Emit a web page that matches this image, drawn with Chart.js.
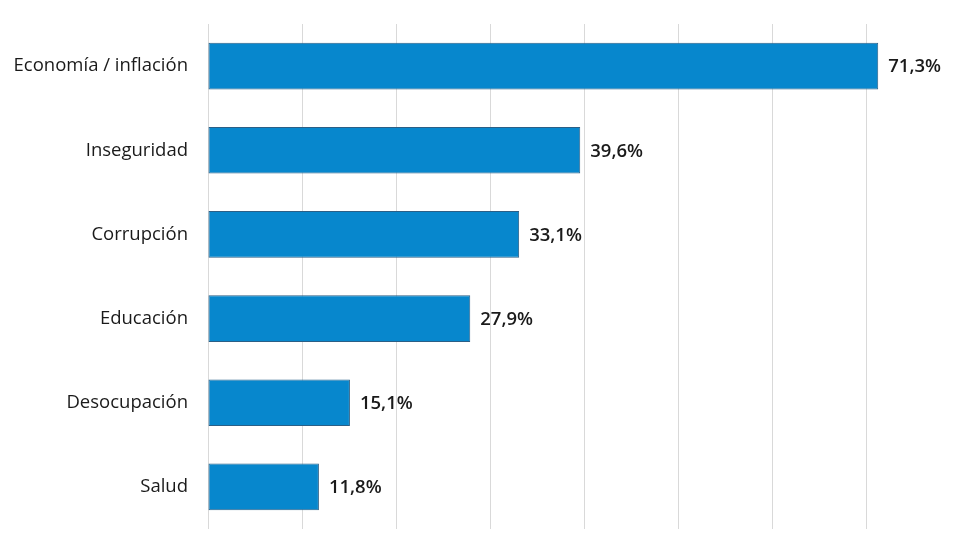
<!DOCTYPE html>
<html>
<head>
<meta charset="utf-8">
<script src="https://cdn.jsdelivr.net/npm/chart.js@4.4.1/dist/chart.umd.min.js"></script>
<style>
html, body { margin: 0; padding: 0; background: #ffffff; }
#wrap { width: 960px; height: 540px; position: relative; }
</style>
</head>
<body>
<div id="wrap"><canvas id="issuesChart"></canvas></div>
<script>
const categories = ['Economía / inflación', 'Inseguridad', 'Corrupción', 'Educación', 'Desocupación', 'Salud'];
const shares = [71.3, 39.6, 33.1, 27.9, 15.1, 11.8];

// value labels at the end of each bar
const valueLabels = {
  id: 'valueLabels',
  afterDatasetsDraw(chart) {
    const ctx = chart.ctx;
    const meta = chart.getDatasetMeta(0);
    ctx.save();
    ctx.font = '600 18.5px "Open Sans", sans-serif';
    ctx.fillStyle = '#1a1a1a';
    ctx.textAlign = 'left';
    ctx.textBaseline = 'middle';
    meta.data.forEach((bar, i) => {
      ctx.fillText(shares[i].toFixed(1).replace('.', ',') + '%', bar.x + 10, bar.y + 1);
    });
    ctx.restore();
  }
};

const ctx = document.getElementById('issuesChart').getContext('2d');
new Chart(ctx, {
  type: 'bar',
  data: {
    labels: categories,
    datasets: [{
      data: shares,
      backgroundColor: '#0787cd',
      borderColor: '#2b5f86',
      borderWidth: 1,
      borderSkipped: false,
      categoryPercentage: 1,
      barPercentage: 0.555
    }]
  },
  options: {
    indexAxis: 'y',
    responsive: true,
    maintainAspectRatio: false,
    animation: false,
    layout: {
      padding: { top: 24, bottom: 11, left: 0, right: 0 }
    },
    plugins: {
      legend: { display: false },
      tooltip: { enabled: false }
    },
    scales: {
      x: {
        min: 0,
        max: 80,
        afterFit: function(scale) { scale.height = 0; scale.paddingLeft = 0; scale.paddingRight = 0; },
        ticks: { display: false, stepSize: 10, padding: 0 },
        grid: {
          color: function(c) {
            return c.tick && c.tick.value >= 80 ? 'rgba(0,0,0,0)' : '#d9d9d9';
          },
          lineWidth: 1,
          drawTicks: false
        },
        border: { display: false }
      },
      y: {
        afterFit: function(scale) {
          scale.width = 208;
          scale.paddingTop = 0;
          scale.paddingBottom = 0;
        },
        ticks: {
          color: '#1a1a1a',
          padding: 20,
          font: { size: 18.5, family: '"Open Sans", sans-serif' }
        },
        grid: { display: false, drawTicks: false },
        border: { display: false }
      }
    }
  },
  plugins: [valueLabels]
});
</script>
</body>
</html>
